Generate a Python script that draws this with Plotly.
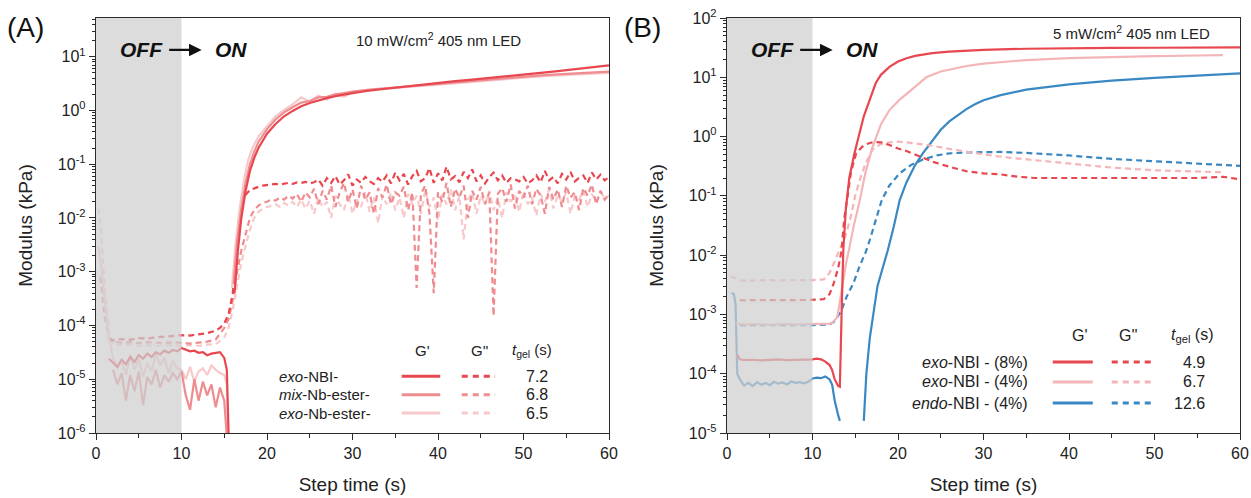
import plotly.graph_objects as go

# ---------------- DATA ----------------
# Panel A (10 mW/cm2): exo-NBI-, mix-Nb-ester-, exo-Nb-ester-
tA_noise = [18.0, 18.5, 19.0, 19.5, 20.0, 20.5, 21.0, 21.5, 22.0, 22.5, 23.0, 23.5, 24.0, 24.5,
            25.0, 25.5, 26.0, 26.5, 27.0, 27.5, 28.0, 28.5, 29.0, 29.5, 30.0, 30.5, 31.0, 31.5,
            32.0, 32.5, 33.0, 33.5, 34.0, 34.5, 35.0, 35.5, 36.0, 36.5, 37.0, 37.5, 38.0, 38.5,
            39.0, 39.5, 40.0, 40.5, 41.0, 41.5, 42.0, 42.5, 43.0, 43.5, 44.0, 44.5, 45.0, 45.5,
            46.0, 46.5, 47.0, 47.5, 48.0, 48.5, 49.0, 49.5, 50.0, 50.5, 51.0, 51.5, 52.0, 52.5,
            53.0, 53.5, 54.0, 54.5, 55.0, 55.5, 56.0, 56.5, 57.0, 57.5, 58.0, 58.5, 59.0, 59.5, 60.0]

# G' exo-NBI-
tA_gp_exoNBI = [1.5, 2, 2.5, 3, 3.5, 4, 4.5, 5, 5.5, 6, 6.5, 7, 7.5, 8, 8.5, 9, 9.5, 10, 10.5, 11,
                11.5, 12, 12.5, 13, 13.5, 14, 14.5, 15, 15.3, 15.6, 15.9,
                16.2, 16.6, 17, 17.5, 18, 18.5, 19, 19.5, 20, 21, 22, 23, 24, 25, 26, 27, 28, 29,
                30, 32, 34, 36, 38, 40, 42, 44, 46, 48, 50, 52, 54, 56, 58, 60]
vA_gp_exoNBI = [2.4e-5, 2.0e-5, 1.7e-5, 2.3e-5, 1.9e-5, 2.6e-5, 2.1e-5, 2.8e-5, 2.4e-5, 3.0e-5, 2.6e-5,
                3.2e-5, 2.9e-5, 3.4e-5, 3.1e-5, 3.5e-5, 3.3e-5, 3.8e-5, 3.5e-5, 3.3e-5, 3.4e-5, 3.1e-5,
                3.2e-5, 2.8e-5, 3.0e-5, 3.1e-5, 3.2e-5, 2.5e-5, 1.5e-5, 3e-7, None,
                4e-4, 2.5e-3, 1.0e-2, 3.2e-2, 7.5e-2, 0.13, 0.2, 0.28, 0.37, 0.56, 0.78, 0.98, 1.2,
                1.38, 1.55, 1.7, 1.85, 1.98, 2.1, 2.35, 2.55, 2.8, 3.0, 3.25, 3.5, 3.75, 4.0, 4.3,
                4.6, 5.0, 5.4, 5.9, 6.3, 6.9]

# G' mix-Nb-ester-
tA_gp_mix = [2, 2.5, 3, 3.5, 4, 4.5, 5, 5.5, 6, 6.5, 7, 7.5, 8, 8.5, 9, 9.5, 10, 10.5, 11, 11.5, 12,
             12.5, 13, 13.5, 14, 14.5, 15, 15.3, 15.5, 15.8,
             16.1, 16.5, 17, 17.5, 18, 18.5, 19, 19.5, 20, 21, 22, 23, 24, 25, 26, 27, 28, 29, 30,
             32, 34, 36, 38, 40, 42, 44, 46, 48, 50, 52, 54, 56, 58, 60]
vA_gp_mix = [1.5e-5, 8e-6, 1.3e-5, 4e-6, 1.2e-5, 6e-6, 1.4e-5, 3.3e-6, 1.1e-5, 8e-6, 1.5e-5, 7e-6,
             1.2e-5, 9e-6, 1.3e-5, 1.0e-5, 1.4e-5, 5e-6, 2.7e-6, 1.0e-5, 4e-6, 9e-6, 5e-6, 8e-6, 3e-6,
             7e-6, 4e-6, 1e-6, 3e-7, None,
             6e-4, 3.5e-3, 1.5e-2, 4.5e-2, 0.1, 0.17, 0.26, 0.35, 0.45, 0.68, 0.92, 1.15, 1.4, 1.5,
             1.75, 1.8, 2.0, 2.1, 2.25, 2.45, 2.6, 2.8, 3.0, 3.2, 3.4, 3.6, 3.8, 4.0, 4.3, 4.5,
             4.7, 4.9, 5.1, 5.3]

# G' exo-Nb-ester-
tA_gp_exoNb = [0.3, 0.7, 1.0, 1.5, 2, 2.5, 3, 3.5, 4, 4.5, 5, 5.5, 6, 6.5, 7, 7.5, 8, 8.5, 9, 9.5, 10,
               10.5, 11, 11.5, 12, 12.5, 13, 13.5, 14, 14.5, 15, 15.3, 15.5, 15.7,
               15.9, 16.3, 16.8, 17.3, 17.8, 18.3, 19, 20, 21, 22, 23, 24, 25, 26, 27, 28, 29, 30,
               32, 34, 36, 38, 40, 42, 44, 46, 48, 50, 52, 54, 56, 58, 60]
vA_gp_exoNb = [3e-3, 1e-3, 3e-4, 6e-5, 2.5e-5, 1.6e-5, 2.2e-5, 1.2e-5, 2.8e-5, 1.5e-5, 2.4e-5, 1.1e-5,
               2.0e-5, 1.4e-5, 3.0e-5, 1.8e-5, 2.5e-5, 1.3e-5, 2.2e-5, 1.6e-5, 1.5e-5, 1.0e-5, 1.7e-5,
               9e-6, 1.4e-5, 1.6e-5, 1.2e-5, 1.8e-5, 1.5e-5, 1.3e-5, 1.2e-5, 8e-6, 3e-7, None,
               5e-4, 3e-3, 1.5e-2, 5e-2, 0.12, 0.2, 0.33, 0.52, 0.78, 1.02, 1.3, 1.75, 1.45, 1.9, 1.6,
               2.05, 1.8, 2.2, 2.3, 2.55, 2.7, 2.9, 3.1, 3.3, 3.5, 3.7, 3.9, 4.1, 4.3, 4.5, 4.7, 4.9,
               5.0]

# G'' exo-NBI-
tA_gpp_exoNBI_pre = [1.5, 2, 3, 4, 5, 6, 7, 8, 9, 10, 11, 12, 13, 14, 14.5, 15, 15.5, 16, 16.3, 16.6,
                     17, 17.5]
vA_gpp_exoNBI_pre = [5.5e-5, 5.3e-5, 5.6e-5, 5.4e-5, 5.8e-5, 5.7e-5, 6.0e-5, 6.2e-5, 6.3e-5, 6.6e-5,
                     6.5e-5, 6.8e-5, 7.2e-5, 8e-5, 9e-5, 1.1e-4, 1.6e-4, 4e-4, 2e-3, 7e-3, 1.8e-2, 2.7e-2]
vA_gpp_exoNBI_post = [0.033, 0.036, 0.038, 0.040, 0.041, 0.042, 0.043, 0.042, 0.044, 0.045, 0.043,
                      0.046, 0.045, 0.047, 0.044, 0.046, 0.052, 0.040, 0.055, 0.045, 0.060, 0.042,
                      0.050, 0.065, 0.040, 0.052, 0.045, 0.058, 0.048, 0.043, 0.055, 0.047, 0.062,
                      0.044, 0.070, 0.050, 0.066, 0.042, 0.060, 0.075, 0.048, 0.055, 0.085, 0.045,
                      0.068, 0.050, 0.090, 0.052, 0.060, 0.046, 0.072, 0.055, 0.080, 0.048, 0.062,
                      0.044, 0.058, 0.070, 0.050, 0.062, 0.045, 0.055, 0.052, 0.048, 0.058, 0.044,
                      0.050, 0.062, 0.046, 0.075, 0.050, 0.058, 0.044, 0.066, 0.052, 0.072, 0.048,
                      0.056, 0.062, 0.045, 0.070, 0.052, 0.064, 0.050, 0.058]

# G'' mix-Nb-ester-
tA_gpp_mix_pre = [0.5, 1.0, 1.5, 2, 3, 4, 5, 6, 7, 8, 9, 10, 11, 12, 13, 14, 14.5, 15, 15.5, 16, 16.5,
                  17, 17.5]
vA_gpp_mix_pre = [8e-4, 1.5e-4, 6e-5, 5.0e-5, 4.8e-5, 4.9e-5, 4.7e-5, 4.9e-5, 4.8e-5, 4.7e-5, 4.9e-5,
                  4.8e-5, 4.6e-5, 4.8e-5, 5.0e-5, 5.5e-5, 7e-5, 9e-5, 1.3e-4, 3e-4, 1e-3, 2.5e-3, 5e-3]
vA_gpp_mix_post = [0.010, 0.014, 0.017, 0.019, 0.020, 0.022, 0.021, 0.024, 0.022, 0.026, 0.023, 0.028,
                   0.020, 0.030, 0.024, 0.035, 0.018, 0.032, 0.022, 0.040, 0.016, 0.030, 0.045, 0.020,
                   0.034, 0.015, 0.040, 0.022, 0.030, 0.012, 0.036, 0.024, 0.042, 0.018, 0.030, 0.026,
                   0.038, 0.014, 0.030, 0.0005, 0.028, 0.040, 0.012, 0.0004, 0.030, 0.020, 0.045,
                   0.016, 0.035, 0.024, 0.040, 0.010, 0.032, 0.022, 0.038, 0.018, 0.030, 0.00015,
                   0.028, 0.036, 0.020, 0.042, 0.015, 0.032, 0.024, 0.040, 0.018, 0.035, 0.026,
                   0.012, 0.038, 0.022, 0.034, 0.016, 0.040, 0.024, 0.030, 0.014, 0.036, 0.026,
                   0.042, 0.018, 0.032, 0.022, 0.028]

# G'' exo-Nb-ester-
tA_gpp_exoNb_pre = [0.3, 0.6, 1.0, 1.5, 2, 3, 4, 5, 6, 7, 8, 9, 10, 11, 12, 13, 14, 15, 15.5, 16,
                    16.5, 17, 17.5]
vA_gpp_exoNb_pre = [1.5e-2, 6e-3, 5e-4, 8e-5, 4.5e-5, 4.3e-5, 4.4e-5, 4.2e-5, 4.3e-5, 4.1e-5, 4.3e-5,
                    4.2e-5, 4.2e-5, 4.3e-5, 4.2e-5, 4.4e-5, 4.5e-5, 6e-5, 9e-5, 2e-4, 6e-4, 1.5e-3,
                    3e-3]
vA_gpp_exoNb_post = [0.006, 0.010, 0.013, 0.015, 0.016, 0.017, 0.018, 0.016, 0.019, 0.017, 0.020,
                     0.016, 0.022, 0.015, 0.021, 0.012, 0.024, 0.016, 0.020, 0.010, 0.026, 0.018,
                     0.014, 0.028, 0.012, 0.022, 0.016, 0.030, 0.013, 0.024, 0.008, 0.026, 0.018,
                     0.030, 0.014, 0.024, 0.010, 0.028, 0.018, 0.026, 0.012, 0.032, 0.016, 0.024,
                     0.009, 0.028, 0.018, 0.034, 0.014, 0.026, 0.004, 0.022, 0.030, 0.012, 0.026,
                     0.018, 0.032, 0.014, 0.024, 0.010, 0.030, 0.020, 0.026, 0.013, 0.032, 0.018,
                     0.024, 0.011, 0.028, 0.020, 0.034, 0.015, 0.026, 0.020, 0.030, 0.012, 0.026,
                     0.022, 0.032, 0.016, 0.028, 0.020, 0.030, 0.024, 0.026]

A_names = ["<i>exo</i>-NBI-", "<i>mix</i>-Nb-ester-", "<i>exo</i>-Nb-ester-"]
A_tgel = ["7.2", "6.8", "6.5"]

# Panel B (5 mW/cm2): exo-NBI (8%), exo-NBI (4%), endo-NBI (4%)
tB_gp_exo8 = [1.2, 1.5, 2, 3, 4, 5, 6, 7, 8, 9, 10, 10.5, 11, 11.5, 12, 12.3, 12.6, 13.0, 13.2, 13.4,
              13.6, 13.9, 14.3, 14.9, 15.5, 16.0, 16.7, 17.4, 18, 19, 20, 21, 22, 24, 26, 28, 30,
              35, 40, 45, 50, 55, 60]
vB_gp_exo8 = [2.1e-4, 1.75e-4, 1.7e-4, 1.72e-4, 1.68e-4, 1.7e-4, 1.74e-4, 1.69e-4, 1.71e-4, 1.7e-4,
              1.75e-4, 1.8e-4, 1.75e-4, 1.6e-4, 1.4e-4, 1.15e-4, 8e-5, 6.2e-5, 6e-5, 1e-3, 1.2e-2,
              0.06, 0.2, 0.52, 1.2, 2.2, 4.2, 8, 11, 15, 18.5, 21, 23, 25.5, 27, 28, 29, 30.3, 31,
              31.3, 31.5, 31.8, 32]

tB_gp_exo4 = [1.0, 2, 3, 4, 5, 6, 7, 8, 9, 10, 11, 12, 12.3, 12.9, 13.4, 13.9, 14.3, 14.8, 15.5,
              16.2, 17, 17.5, 18, 19, 20.2, 21.5, 23.3, 25, 28, 30, 35, 40, 45, 50, 55, 58]
vB_gp_exo4 = [7e-4, 6.8e-4, 6.9e-4, 6.8e-4, 6.7e-4, 6.8e-4, 6.9e-4, 6.8e-4, 6.8e-4, 6.9e-4, 7e-4,
              7e-4, 7.2e-4, 9e-4, 2.5e-3, 7e-3, 1.3e-2, 3e-2, 0.08, 0.25, 0.65, 1.05, 1.6, 2.8, 4.2,
              6, 10, 12.5, 15.5, 17, 19.5, 21, 22, 22.8, 23.3, 23.6]

tB_gp_endo4 = [0.5, 0.8, 1.0, 1.2, 1.5, 2, 2.5, 3, 3.5, 4, 4.5, 5, 5.5, 6, 6.5, 7, 7.5, 8, 8.5, 9,
               9.5, 10, 10.5, 11, 11.5, 12, 12.3, 12.6, 13.0, 13.2, 14.5,
               16.0, 16.3, 16.7, 17.1, 17.6, 18.2, 18.8, 19.5, 20.2, 21, 22, 22.9, 24, 25, 26, 27,
               28, 29, 30, 32, 35, 40, 45, 50, 55, 60]
vB_gp_endo4 = [2.3e-3, 2.2e-3, 1.5e-3, 1e-4, 8e-5, 6.3e-5, 7e-5, 6.2e-5, 7.2e-5, 6.5e-5, 7e-5,
               6.4e-5, 7.3e-5, 6.8e-5, 7.1e-5, 6.6e-5, 7.4e-5, 7e-5, 7.2e-5, 6.9e-5, 7.3e-5, 8.3e-5,
               8.6e-5, 8.4e-5, 9e-5, 8e-5, 6.5e-5, 3.5e-5, 2e-5, 1.6e-5, None,
               1.6e-5, 1e-4, 4e-4, 1e-3, 3e-3, 6e-3, 1.2e-2, 0.03, 0.085, 0.17, 0.33, 0.52, 0.85,
               1.3, 1.8, 2.3, 2.9, 3.5, 4.1, 5.0, 6.2, 7.6, 8.8, 9.8, 10.7, 11.6]

tB_gpp_exo8 = [1.5, 2, 3, 4, 5, 6, 7, 8, 9, 10, 11, 11.3, 12, 12.5, 13.0, 13.4, 13.7, 14.0, 14.5,
               15.1, 16, 17.1, 18, 19, 20, 21, 22, 23, 24.2, 26, 28, 30, 32, 34, 36, 40, 45, 50, 55,
               58, 60]
vB_gpp_exo8 = [1.75e-3, 1.72e-3, 1.75e-3, 1.74e-3, 1.75e-3, 1.73e-3, 1.75e-3, 1.74e-3, 1.75e-3,
               1.75e-3, 1.75e-3, 1.8e-3, 2.2e-3, 3.4e-3, 6e-3, 1.2e-2, 0.04, 0.085, 0.25, 0.52, 0.72,
               0.81, 0.8, 0.72, 0.63, 0.57, 0.5, 0.43, 0.37, 0.31, 0.26, 0.24, 0.23, 0.21, 0.2, 0.2,
               0.2, 0.2, 0.2, 0.21, 0.19]

tB_gpp_exo4 = [0.4, 1, 1.5, 2, 3, 4, 5, 6, 7, 8, 9, 10, 11, 11.3, 12, 12.6, 13.2, 13.8, 14.4, 15,
               15.6, 16.2, 17, 18, 19, 20, 21, 22, 24, 26, 28, 30, 33, 36, 40, 45, 50, 55, 58]
vB_gpp_exo4 = [4.4e-3, 4e-3, 3.8e-3, 3.7e-3, 3.75e-3, 3.8e-3, 3.8e-3, 3.75e-3, 3.8e-3, 3.8e-3,
               3.8e-3, 3.8e-3, 3.8e-3, 3.9e-3, 5e-3, 8e-3, 1.2e-2, 2e-2, 4e-2, 0.1, 0.2, 0.35, 0.6,
               0.75, 0.8, 0.82, 0.8, 0.77, 0.7, 0.62, 0.55, 0.5, 0.44, 0.4, 0.35, 0.3, 0.27, 0.26,
               0.25]

tB_gpp_endo4 = [1.5, 2, 3, 4, 5, 6, 7, 8, 9, 10, 11, 12, 12.5, 13.3, 14, 14.8, 15.5, 16.2, 16.7,
                17.4, 18.1, 19, 20.2, 21.5, 22.9, 24.5, 26, 28, 29.6, 32, 35, 40, 45, 50, 55, 60]
vB_gpp_endo4 = [6.6e-4, 6.5e-4, 6.6e-4, 6.6e-4, 6.5e-4, 6.6e-4, 6.6e-4, 6.5e-4, 6.6e-4, 6.6e-4,
                6.7e-4, 6.8e-4, 7.5e-4, 1.1e-3, 2e-3, 3.4e-3, 6.5e-3, 1.1e-2, 1.8e-2, 0.04, 0.085,
                0.15, 0.24, 0.33, 0.41, 0.48, 0.52, 0.54, 0.55, 0.55, 0.53, 0.48, 0.42, 0.38, 0.35,
                0.32]

B_names = ["<i>exo</i>-NBI - (8%)", "<i>exo</i>-NBI - (4%)", "<i>endo</i>-NBI - (4%)"]
B_tgel = ["4.9", "6.7", "12.6"]

x_ticks = [0, 10, 20, 30, 40, 50, 60]
yA_exponents = [-6, -5, -4, -3, -2, -1, 0, 1]
yB_exponents = [-5, -4, -3, -2, -1, 0, 1, 2]

# ---------------- STYLE ----------------
FONT = "Liberation Sans, Arial, sans-serif"
RED = "#E8474F"
MID = "#EE8C90"
LIGHT = "#F7C9CB"
PINK = "#F4B5B8"
BLUE = "#3A88C2"
DASH = "6px,4px"
LW = 2.2
AX = "#2b2b2b"

fig = go.Figure()


def add(t, v, color, dash, xa, ya, width=LW):
    fig.add_trace(go.Scatter(x=t, y=v, mode="lines", xaxis=xa, yaxis=ya, showlegend=False,
                             connectgaps=False, hoverinfo="skip",
                             line=dict(color=color, width=width, dash=dash)))


# Panel A traces (light first, dark on top)
add(tA_gpp_exoNb_pre + tA_noise, vA_gpp_exoNb_pre + vA_gpp_exoNb_post, LIGHT, DASH, "x", "y")
add(tA_gpp_mix_pre + tA_noise, vA_gpp_mix_pre + vA_gpp_mix_post, MID, DASH, "x", "y")
add(tA_gpp_exoNBI_pre + tA_noise, vA_gpp_exoNBI_pre + vA_gpp_exoNBI_post, RED, DASH, "x", "y")
add(tA_gp_exoNb, vA_gp_exoNb, LIGHT, "solid", "x", "y")
add(tA_gp_mix, vA_gp_mix, MID, "solid", "x", "y")
add(tA_gp_exoNBI, vA_gp_exoNBI, RED, "solid", "x", "y")

# Panel B traces
add(tB_gpp_endo4, vB_gpp_endo4, BLUE, DASH, "x2", "y2")
add(tB_gp_endo4, vB_gp_endo4, BLUE, "solid", "x2", "y2")
add(tB_gp_exo4, vB_gp_exo4, PINK, "solid", "x2", "y2")
add(tB_gpp_exo4, vB_gpp_exo4, PINK, DASH, "x2", "y2")
add(tB_gpp_exo8, vB_gpp_exo8, RED, DASH, "x2", "y2")
add(tB_gp_exo8, vB_gp_exo8, RED, "solid", "x2", "y2")


def yaxis_style(exps, rng):
    major = [10.0 ** e for e in exps]
    minor_vals = [d * 10.0 ** e for e in exps for d in range(2, 10)]
    return dict(type="log", range=rng, tickmode="array", tickvals=major,
                ticktext=["10<sup>%d</sup>" % e for e in exps],
                ticks="outside", ticklen=6, tickwidth=1.3, tickcolor=AX,
                showline=True, linecolor=AX, linewidth=1.4, mirror=True,
                showgrid=False, zeroline=False, automargin=False,
                minor=dict(tickmode="array", tickvals=minor_vals, ticks="outside", ticklen=3,
                           tickwidth=1, tickcolor=AX, showgrid=False),
                tickfont=dict(family=FONT, size=16, color="#222"),
                title=dict(text="Modulus (kPa)", font=dict(family=FONT, size=19, color="#222"),
                           standoff=20))


xcommon = dict(range=[0, 60], tickvals=x_ticks, ticks="outside", ticklen=6, tickwidth=1.3,
               tickcolor=AX, showline=True, linecolor=AX, linewidth=1.4, mirror=True,
               showgrid=False, zeroline=False, automargin=False,
               minor=dict(dtick=5, tick0=0, ticks="outside", ticklen=3.5, tickwidth=1.1,
                          tickcolor=AX, showgrid=False),
               tickfont=dict(family=FONT, size=16, color="#222"),
               title=dict(text="Step time (s)", font=dict(family=FONT, size=19, color="#222"),
                          standoff=16))

dA = 513 / 1144
fig.update_layout(
    width=1251, height=498, margin=dict(l=96, r=11, t=18, b=65, autoexpand=False),
    paper_bgcolor="white", plot_bgcolor="white",
    font=dict(family=FONT, color="#222"),
    xaxis=dict(domain=[0, dA], anchor="y", **xcommon),
    yaxis=dict(domain=[0, 1], anchor="x", **yaxis_style(yA_exponents, [-6, 1.72])),
    xaxis2=dict(domain=[1 - dA, 1], anchor="y2", **xcommon),
    yaxis2=dict(domain=[0, 1], anchor="x2", **yaxis_style(yB_exponents, [-5, 2])),
)

shapes = []
annots = []


def txt(xr, yr, x, y, text, size, xanchor="center", color="#222"):
    annots.append(dict(xref=xr, yref=yr, x=x, y=y, xanchor=xanchor, yanchor="middle",
                       showarrow=False, text=text, font=dict(family=FONT, size=size, color=color)))


for xs, ys in [("x", "y"), ("x2", "y2")]:
    shapes.append(dict(type="rect", xref=xs, yref=ys + " domain", x0=0, x1=10, y0=0, y1=1,
                       fillcolor="#cfcfcf", opacity=0.72, line=dict(width=0), layer="above"))
    txt(xs + " domain", ys + " domain", 0.043, 0.923, "<b><i>OFF</i></b>", 21, "left", "#111")
    annots.append(dict(xref=xs + " domain", yref=ys + " domain", x=0.206, y=0.923,
                       ax=-34, ay=0, text="", showarrow=True, arrowhead=2, arrowsize=1.1,
                       arrowwidth=2.3, arrowcolor="#111"))
    txt(xs + " domain", ys + " domain", 0.229, 0.923, "<b><i>ON</i></b>", 21, "left", "#111")

txt("x domain", "y domain", 0.667, 0.949, "10 mW/cm<sup>2</sup> 405 nm LED", 15)
txt("x2 domain", "y2 domain", 0.788, 0.964, "5 mW/cm<sup>2</sup> 405 nm LED", 15)
txt("paper", "paper", -0.0612, 0.976, "(A)", 28, "center", "#111")
txt("paper", "paper", 0.478, 0.976, "(B)", 28, "center", "#111")

# Legend table A
txt("x domain", "y domain", 0.637, 0.2, "G'", 15)
txt("x domain", "y domain", 0.749, 0.2, "G''", 15)
txt("x domain", "y domain", 0.85, 0.2, "<i>t</i><sub>gel</sub> (s)", 15)
A_cols = [RED, MID, LIGHT]
A_rows = [0.137, 0.092, 0.048]
for name, tg, c, yy in zip(A_names, A_tgel, A_cols, A_rows):
    txt("x domain", "y domain", 0.353, yy, name, 15, "left")
    txt("x domain", "y domain", 0.885, yy, tg, 16, "right")
    shapes.append(dict(type="line", xref="x domain", yref="y domain", x0=0.596, x1=0.671,
                       y0=yy, y1=yy, line=dict(color=c, width=3)))
    shapes.append(dict(type="line", xref="x domain", yref="y domain", x0=0.713, x1=0.778,
                       y0=yy, y1=yy, line=dict(color=c, width=3, dash="6px,5px")))

# Legend table B
txt("x2 domain", "y2 domain", 0.688, 0.236, "G'", 16)
txt("x2 domain", "y2 domain", 0.782, 0.236, "G''", 16)
txt("x2 domain", "y2 domain", 0.908, 0.236, "<i>t</i><sub>gel</sub> (s)", 16)
B_cols = [RED, PINK, BLUE]
B_rows = [0.171, 0.123, 0.072]
for name, tg, c, yy in zip(B_names, B_tgel, B_cols, B_rows):
    txt("x2 domain", "y2 domain", 0.591, yy, name, 16, "right")
    txt("x2 domain", "y2 domain", 0.936, yy, tg, 16, "right")
    shapes.append(dict(type="line", xref="x2 domain", yref="y2 domain", x0=0.635, x1=0.713,
                       y0=yy, y1=yy, line=dict(color=c, width=3)))
    shapes.append(dict(type="line", xref="x2 domain", yref="y2 domain", x0=0.75, x1=0.834,
                       y0=yy, y1=yy, line=dict(color=c, width=3, dash="6px,5px")))

fig.update_layout(shapes=shapes, annotations=annots)
fig.write_html("out.html")
